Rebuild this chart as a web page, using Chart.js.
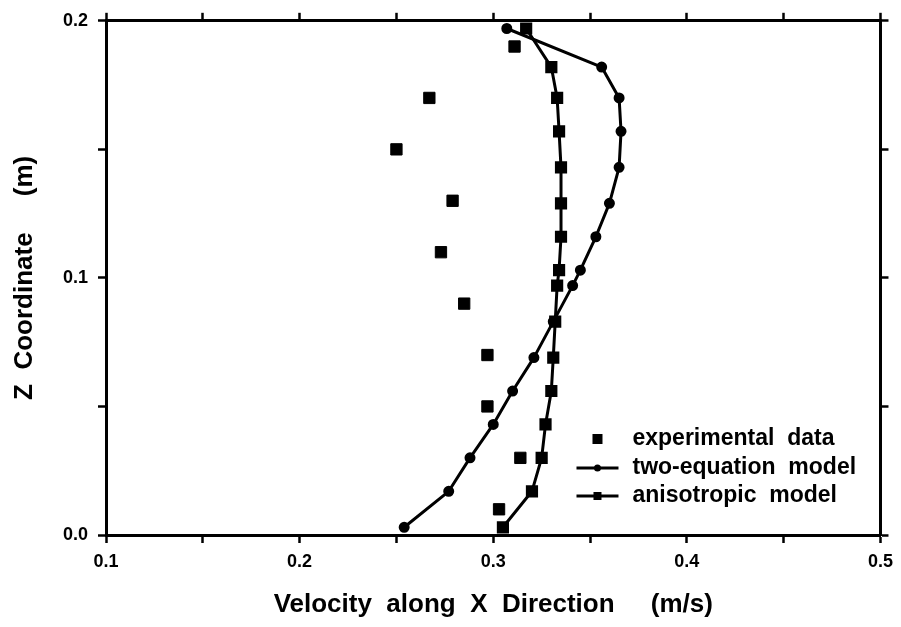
<!DOCTYPE html>
<html>
<head>
<meta charset="utf-8">
<script src="https://cdn.jsdelivr.net/npm/chart.js@4.4.1/dist/chart.umd.min.js"></script>
<style>
  body { margin: 0; background: #fff; }
</style>
</head>
<body>
<canvas id="chart" width="901" height="627"></canvas>
<script>
// z levels of the two model profiles (m)
const modelZ = [0.197, 0.182, 0.170, 0.157, 0.143, 0.129, 0.116, 0.103, 0.097, 0.083, 0.069, 0.056, 0.043, 0.030, 0.017, 0.003];
// velocity (m/s) for each model
const twoEquation = [0.307, 0.356, 0.365, 0.366, 0.365, 0.360, 0.353, 0.345, 0.341, 0.331, 0.321, 0.310, 0.300, 0.288, 0.277, 0.254];
const anisotropic = [0.317, 0.330, 0.333, 0.334, 0.335, 0.335, 0.335, 0.334, 0.333, 0.332, 0.331, 0.330, 0.327, 0.325, 0.320, 0.305];
// experimental points
const expZ = [0.19, 0.17, 0.15, 0.13, 0.11, 0.09, 0.07, 0.05, 0.03, 0.01];
const expVel = [0.311, 0.267, 0.250, 0.279, 0.273, 0.285, 0.297, 0.297, 0.314, 0.303];

const legendLabels = ['experimental  data', 'two-equation  model', 'anisotropic  model'];
const xTitle = 'Velocity  along  X  Direction     (m/s)';
const yTitle = 'Z  Coordinate     (m)';

let toPoints = (xs, ys) => xs.map((x, i) => ({ x: x, y: ys[i] }));

const FONT = "'Liberation Sans', Arial, sans-serif";

// every 0.05 gets a tick, only multiples of 0.1 get a label
let tenths = v => Math.abs(v * 10 - Math.round(v * 10)) < 1e-6 ? v.toFixed(1) : '';

let gridOpts = {
    drawOnChartArea: false,
    drawTicks: true,
    tickLength: 8,
    tickWidth: 2.5,
    tickColor: '#000',
    color: '#000'
};
let borderOpts = { display: true, color: '#000', width: 3 };

// legend drawn inside the plot, bottom right
const insideLegend = {
    id: 'insideLegend',
    afterDraw(chart) {
        let ctx = chart.ctx;
        let area = chart.chartArea;
        let lineX0 = area.right - 304, lineX1 = area.right - 262;
        let markX = (lineX0 + lineX1) / 2;
        let textX = area.right - 248;
        let rowY = [area.bottom - 96, area.bottom - 67, area.bottom - 39];
        ctx.save();
        ctx.fillStyle = '#000';
        ctx.strokeStyle = '#000';
        ctx.font = 'bold 23px ' + FONT;
        ctx.textBaseline = 'middle';
        legendLabels.forEach((label, i) => {
            let y = rowY[i];
            if (i == 0) {
                ctx.fillRect(markX - 5, y - 5, 10, 10);
            } else {
                ctx.lineWidth = 3;
                ctx.beginPath();
                ctx.moveTo(lineX0, y);
                ctx.lineTo(lineX1, y);
                ctx.stroke();
                if (i == 1) {
                    ctx.beginPath();
                    ctx.arc(markX, y, 3.5, 0, Math.PI * 2);
                    ctx.fill();
                } else {
                    ctx.fillRect(markX - 4, y - 4, 8, 8);
                }
            }
            ctx.fillText(label, textX, y);
        });
        ctx.restore();
    }
};

let ctx = document.getElementById('chart').getContext('2d');
new Chart(ctx, {
    type: 'scatter',
    data: {
        datasets: [{
            label: legendLabels[0],
            data: toPoints(expVel, expZ),
            pointStyle: 'rect',
            pointRadius: 8,
            backgroundColor: '#000',
            borderColor: '#000',
            showLine: false
        }, {
            label: legendLabels[1],
            data: toPoints(twoEquation, modelZ),
            showLine: true,
            borderColor: '#000',
            backgroundColor: '#000',
            borderWidth: 3,
            borderJoinStyle: 'round',
            pointStyle: 'circle',
            pointRadius: 4
        }, {
            label: legendLabels[2],
            data: toPoints(anisotropic, modelZ),
            showLine: true,
            borderColor: '#000',
            backgroundColor: '#000',
            borderWidth: 3,
            borderJoinStyle: 'round',
            pointStyle: 'rect',
            pointRadius: 6.5
        }]
    },
    options: {
        responsive: false,
        animation: false,
        devicePixelRatio: 1,
        layout: { padding: 0 },
        plugins: {
            legend: { display: false },
            tooltip: { enabled: false }
        },
        scales: {
            x: {
                type: 'linear',
                position: 'bottom',
                min: 0.1,
                max: 0.5,
                afterFit: s => { s.height = 92; },
                grid: gridOpts,
                border: borderOpts,
                ticks: {
                    stepSize: 0.05,
                    autoSkip: false,
                    maxRotation: 0,
                    padding: 8,
                    color: '#000',
                    font: { family: FONT, size: 18, weight: 'bold' },
                    callback: tenths
                },
                title: {
                    display: true,
                    text: xTitle,
                    color: '#000',
                    font: { family: FONT, size: 26, weight: 'bold' },
                    padding: { top: 0, bottom: 7 }
                }
            },
            y: {
                type: 'linear',
                position: 'left',
                min: 0,
                max: 0.2,
                afterFit: s => { s.width = 106; },
                grid: gridOpts,
                border: borderOpts,
                ticks: {
                    stepSize: 0.05,
                    autoSkip: false,
                    padding: 10,
                    color: '#000',
                    font: { family: FONT, size: 18, weight: 'bold' },
                    callback: tenths
                },
                title: {
                    display: true,
                    text: yTitle,
                    color: '#000',
                    font: { family: FONT, size: 26, weight: 'bold' },
                    padding: { top: 9, bottom: 0 }
                }
            },
            x2: {
                type: 'linear',
                axis: 'x',
                position: 'top',
                min: 0.1,
                max: 0.5,
                afterFit: s => { s.height = 14; },
                grid: gridOpts,
                border: borderOpts,
                ticks: { display: false, stepSize: 0.05 }
            },
            y2: {
                type: 'linear',
                axis: 'y',
                position: 'right',
                min: 0,
                max: 0.2,
                afterFit: s => { s.width = 17; },
                grid: gridOpts,
                border: borderOpts,
                ticks: { display: false, stepSize: 0.05 }
            }
        }
    },
    plugins: [insideLegend]
});
</script>
</body>
</html>
